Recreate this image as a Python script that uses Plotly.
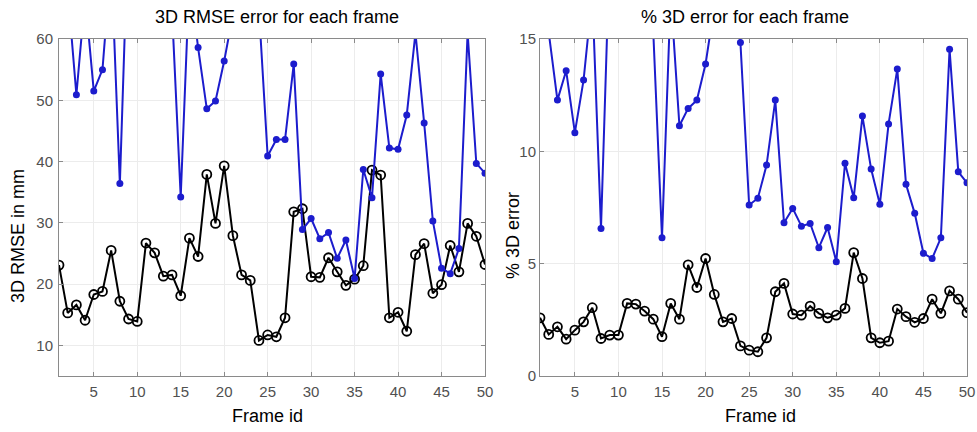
import plotly.graph_objects as go

frames = list(range(1, 51))

# 3D RMSE (mm) per frame
rmse_black = [23.1, 15.3, 16.6, 14.1, 18.3, 18.8, 25.5, 17.2, 14.3, 13.9,
              26.7, 25.1, 21.3, 21.5, 18.1, 27.5, 24.5, 37.9, 29.9, 39.3,
              27.9, 21.5, 20.6, 10.8, 11.7, 11.4, 14.5, 31.8, 32.3, 21.2,
              21.1, 24.3, 22.0, 19.8, 20.8, 23.0, 38.6, 37.8, 14.5, 15.4,
              12.3, 24.8, 26.6, 18.5, 19.9, 26.3, 22.0, 29.9, 27.8, 23.2]
rmse_blue = [70.0, 68.0, 50.9, 67.0, 51.5, 55.0, 73.0, 36.4, 80.0, 78.0,
             82.0, 79.0, 72.0, 64.6, 34.2, 70.0, 58.6, 48.6, 49.9, 56.4,
             64.0, 70.0, 68.0, 64.8, 40.9, 43.6, 43.6, 55.9, 28.9, 30.7,
             27.4, 28.4, 24.2, 27.2, 20.9, 38.7, 34.1, 54.3, 42.2, 42.0,
             47.6, 61.0, 46.3, 30.3, 22.6, 21.7, 25.8, 61.0, 39.7, 38.1]

# % 3D error per frame
pct_black = [2.59, 1.85, 2.19, 1.64, 2.04, 2.41, 3.04, 1.67, 1.82, 1.82,
             3.23, 3.20, 2.89, 2.53, 1.75, 3.23, 2.53, 4.95, 3.94, 5.23,
             3.63, 2.41, 2.56, 1.34, 1.15, 1.08, 1.70, 3.75, 4.12, 2.76,
             2.71, 3.11, 2.79, 2.59, 2.71, 3.01, 5.49, 4.34, 1.70, 1.48,
             1.55, 2.98, 2.64, 2.39, 2.56, 3.42, 2.79, 3.79, 3.42, 2.82]
pct_blue = [18.0, 15.3, 12.28, 13.59, 10.83, 13.17, 17.0, 6.57, 19.0, 20.0,
            21.0, 20.0, 18.0, 15.3, 6.15, 17.0, 11.14, 11.91, 12.28, 13.89,
            16.1, 19.0, 20.0, 14.84, 7.61, 7.91, 9.39, 12.28, 6.82, 7.46,
            6.67, 6.79, 5.71, 6.61, 5.09, 9.47, 7.93, 11.57, 9.21, 7.64,
            11.22, 13.66, 8.53, 7.24, 5.46, 5.23, 6.15, 14.54, 9.09, 8.60]

x_ticks = [5, 10, 15, 20, 25, 30, 35, 40, 45, 50]
left_y_ticks = [10, 20, 30, 40, 50, 60]
right_y_ticks = [0, 5, 10, 15]

titles = ["3D RMSE error for each frame", "% 3D error for each frame"]
y_titles = ["3D RMSE in mm", "% 3D error"]
x_title = "Frame id"

BLUE = "rgb(28,28,205)"
FONT = "Liberation Sans, Arial, sans-serif"
W, H = 977, 432

fig = go.Figure()

def add_pair(xa, ya, black, blue):
    fig.add_trace(go.Scatter(x=frames, y=black, mode="lines+markers", xaxis=xa, yaxis=ya,
                             line=dict(color="black", width=2),
                             marker=dict(symbol="circle-open", size=9, color="black",
                                         line=dict(width=1.8, color="black")),
                             showlegend=False))
    fig.add_trace(go.Scatter(x=frames, y=blue, mode="lines+markers", xaxis=xa, yaxis=ya,
                             line=dict(color=BLUE, width=2),
                             marker=dict(symbol="circle", size=7, color=BLUE),
                             showlegend=False))

add_pair("x", "y", rmse_black, rmse_blue)
add_pair("x2", "y2", pct_black, pct_blue)

# pixel geometry
L1, R1 = 59, 485
L2, R2 = 540, 967
T, B = 39, 376

def px(v):
    return v / W

def py(v):
    return 1 - v / H

axis_common = dict(showline=True, linecolor="#8a8a8a", linewidth=1, mirror="ticks",
                   ticks="inside", ticklen=4, tickcolor="#8a8a8a",
                   showgrid=True, gridcolor="#ececec", gridwidth=1, zeroline=False,
                   automargin=False,
                   tickfont=dict(family=FONT, size=15, color="#505050"))

fig.update_layout(
    width=W, height=H,
    margin=dict(l=0, r=0, t=0, b=0),
    paper_bgcolor="white", plot_bgcolor="white",
    xaxis=dict(domain=[px(L1), px(R1)], range=[1, 50], tickvals=x_ticks, anchor="y",
               ticklabelstandoff=2, **axis_common),
    yaxis=dict(domain=[py(B), py(T)], range=[5, 60], tickvals=left_y_ticks, anchor="x",
               ticklabelstandoff=2, **axis_common),
    xaxis2=dict(domain=[px(L2), px(R2)], range=[1, 50], tickvals=x_ticks, anchor="y2",
                ticklabelstandoff=2, **axis_common),
    yaxis2=dict(domain=[py(B), py(T)], range=[0, 15], tickvals=right_y_ticks, anchor="x2",
                ticklabelstandoff=0, **axis_common),
)

ann = []
title_cx = [277, 745]
xt_cx = [267, 760]
for i in range(2):
    ann.append(dict(text=titles[i], x=px(title_cx[i]), y=py(17), xref="paper", yref="paper",
                    showarrow=False, xanchor="center", yanchor="middle",
                    font=dict(family=FONT, size=18, color="black")))
    ann.append(dict(text=x_title, x=px(xt_cx[i]), y=py(416), xref="paper", yref="paper",
                    showarrow=False, xanchor="center", yanchor="middle",
                    font=dict(family=FONT, size=18, color="black")))
ann.append(dict(text=y_titles[0], x=px(18), y=py(236), xref="paper", yref="paper",
                showarrow=False, textangle=-90, xanchor="center", yanchor="middle",
                font=dict(family=FONT, size=18, color="black")))
ann.append(dict(text=y_titles[1], x=px(513), y=py(236), xref="paper", yref="paper",
                showarrow=False, textangle=-90, xanchor="center", yanchor="middle",
                font=dict(family=FONT, size=18, color="black")))
fig.update_layout(annotations=ann)

fig.write_html("out.html", config={"displayModeBar": False},
               post_script="document.body.style.margin='0';document.body.style.overflow='hidden';")
